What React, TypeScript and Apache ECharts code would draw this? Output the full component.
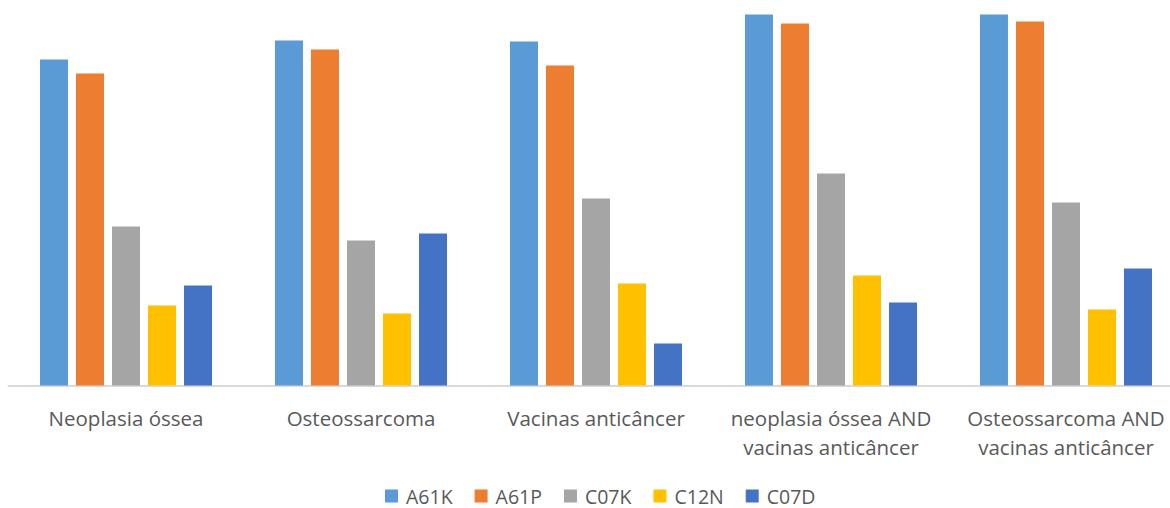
import React, { useEffect, useRef } from "react";
import * as echarts from "echarts";

const categories = [
  "Neoplasia óssea",
  "Osteossarcoma",
  "Vacinas anticâncer",
  "neoplasia óssea AND\nvacinas anticâncer",
  "Osteossarcoma AND\nvacinas anticâncer",
];
const seriesNames = ["A61K", "A61P", "C07K", "C12N", "C07D"];
const colors = ["#5B9BD5", "#ED7D31", "#A5A5A5", "#FFC000", "#4472C4"];
const A61K = [326, 345, 344, 371, 371];
const A61P = [312, 336, 320, 362, 364];
const C07K = [159, 145, 187, 212, 183];
const C12N = [80, 72, 102, 110, 76];
const C07D = [100, 152, 42, 83, 117];
const values = [A61K, A61P, C07K, C12N, C07D];
const yMax = 371;

export default function App() {
  const ref = useRef<HTMLDivElement>(null);
  useEffect(() => {
    document.body.style.margin = "0";
    const chart = echarts.init(ref.current!, undefined, { renderer: "svg" });
    const font = "'Open Sans', 'Noto Sans', sans-serif";
    chart.setOption({
      animation: false,
      backgroundColor: "#ffffff",
      grid: { left: 8.5, top: 14.5, width: 1175, height: 371 },
      xAxis: {
        type: "category",
        data: categories,
        axisLine: { lineStyle: { color: "#d9d9d9", width: 2 } },
        axisTick: { show: false },
        axisLabel: {
          color: "#595959",
          fontFamily: font,
          fontSize: 20.5,
          lineHeight: 29,
          margin: 17.5,
          interval: 0,
        },
      },
      yAxis: {
        type: "value",
        min: 0,
        max: yMax,
        show: false,
        splitLine: { show: false },
      },
      legend: {
        data: seriesNames,
        left: 385,
        top: 486,
        padding: 0,
        itemWidth: 13,
        itemHeight: 13,
        itemGap: 22,
        icon: "rect",
        textStyle: {
          color: "#595959",
          fontFamily: font,
          fontSize: 19.5,
          padding: [0, 0, 0, 3],
        },
      },
      series: seriesNames.map((name, i) => ({
        name,
        type: "bar",
        data: values[i],
        barWidth: 28,
        barGap: "28.6%",
        itemStyle: { color: colors[i] },
      })),
    });
    return () => chart.dispose();
  }, []);
  return (
    <div style={{ position: "absolute", left: 0, top: 0, width: 1170, height: 508, overflow: "hidden" }}>
      <div ref={ref} style={{ width: 1190, height: 508 }} />
    </div>
  );
}
